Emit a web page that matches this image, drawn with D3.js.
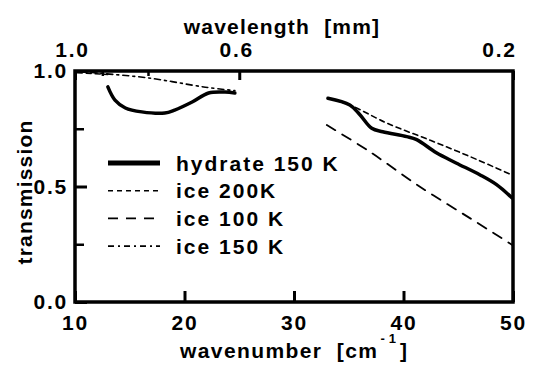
<!DOCTYPE html>
<html>
<head>
<meta charset="utf-8">
<script src="https://cdn.jsdelivr.net/npm/d3@7"></script>
<style>
  html, body { margin: 0; padding: 0; background: #fff; }
  svg text { font-family: "Liberation Sans", Arial, sans-serif; font-weight: bold; fill: #000; }
</style>
</head>
<body>
<svg id="chart" width="535" height="367"></svg>
<script>
// axis ticks
const wavenumberTicks = [10, 20, 30, 40, 50];
const transmissionMajor = [0, 0.5, 1.0];
const transmissionMinor = [0.25, 0.75];
// top axis in mm (labels kept as printed on the original)
const wavelengthMajor = [1.0, 0.4, 0.2];
const wavelengthMajorLabels = ['1.0', '0.6', '0.2'];
const wavelengthMinor = [0.8, 0.6];

// series: [wavenumber cm^-1, transmission]
const hydrateLow = [[13.0, 0.931], [13.65, 0.874], [14.6, 0.840], [16.1, 0.823], [18.2, 0.818],
  [19.1, 0.831], [20.7, 0.866], [22.2, 0.905], [23.7, 0.909], [24.6, 0.905]];
const hydrateHigh = [[33.1, 0.882], [35.1, 0.853], [36.0, 0.812], [37.1, 0.752], [38.1, 0.737],
  [40.3, 0.716], [41.2, 0.703], [43.0, 0.646], [44.8, 0.602], [47.0, 0.550], [48.5, 0.508], [49.9, 0.451]];
const ice200Low = [[10.2, 0.993], [13.0, 0.985]];
const ice200High = [[33.3, 0.880], [35.1, 0.853], [38.5, 0.774], [42.4, 0.701], [46.1, 0.629], [49.9, 0.550]];
const ice100 = [[33.0, 0.766], [36.9, 0.651], [41.5, 0.499], [46.1, 0.362], [49.9, 0.248]];
const ice150 = [[10.0, 1.0], [12.3, 0.99], [16.7, 0.97], [21.9, 0.93], [24.6, 0.915]];

const legendLabels = ['hydrate 150 K', 'ice 200K', 'ice 100 K', 'ice 150 K'];

const styles = {
  hydrate: { width: 3.5, dash: null },
  ice200: { width: 1.6, dash: '5,4' },
  ice100: { width: 1.8, dash: '10,8' },
  ice150: { width: 1.6, dash: '6,4,2,4' }
};

const W = 535, H = 367;
const margin = { top: 71, right: 22, bottom: 65, left: 75 };

const svg = d3.select('#chart');

const x = d3.scaleLinear().domain([10, 50]).range([margin.left, W - margin.right]);
const y = d3.scaleLinear().domain([0, 1]).range([H - margin.bottom, margin.top]);

const line = d3.line()
  .x(d => x(d[0]))
  .y(d => y(d[1]))
  .curve(d3.curveCatmullRom);

const fontSize = 21;

function styleAxis(g, width) {
  g.select('.domain').remove();
  g.selectAll('.tick line').attr('stroke', '#000').attr('stroke-width', width);
  g.selectAll('.tick text')
    .style('font-size', fontSize + 'px')
    .style('letter-spacing', '1.8px');
}

// left axis
svg.append('g')
  .attr('transform', `translate(${margin.left},0)`)
  .call(d3.axisLeft(y).tickValues(transmissionMajor).tickFormat(d3.format('.1f'))
    .tickSizeInner(-12).tickSizeOuter(0).tickPadding(7))
  .call(g => styleAxis(g, 3));
svg.append('g')
  .attr('transform', `translate(${margin.left},0)`)
  .call(d3.axisLeft(y).tickValues(transmissionMinor).tickFormat('')
    .tickSizeInner(-9).tickSizeOuter(0))
  .call(g => styleAxis(g, 2.5));

// bottom axis
svg.append('g')
  .attr('transform', `translate(0,${y(0)})`)
  .call(d3.axisBottom(x).tickValues(wavenumberTicks).tickFormat(d3.format('d'))
    .tickSizeInner(-11).tickSizeOuter(0).tickPadding(13))
  .call(g => styleAxis(g, 3));

// top axis (wavelength = 10 / wavenumber)
const topMajor = svg.append('g')
  .attr('transform', `translate(0,${y(1)})`)
  .call(d3.axisTop(x).tickValues(wavelengthMajor.map(l => 10 / l))
    .tickFormat((d, i) => wavelengthMajorLabels[i])
    .tickSizeInner(-9).tickSizeOuter(0).tickPadding(14))
  .call(g => styleAxis(g, 3));
topMajor.selectAll('.tick text')
  .attr('dx', (d, i) => i === wavelengthMajor.length - 1 ? -14 : -3);
svg.append('g')
  .attr('transform', `translate(0,${y(1)})`)
  .call(d3.axisTop(x).tickValues(wavelengthMinor.map(l => 10 / l)).tickFormat('')
    .tickSizeInner(-5).tickSizeOuter(0))
  .call(g => styleAxis(g, 2.5));

// frame
svg.append('rect')
  .attr('x', x(10)).attr('y', y(1))
  .attr('width', x(50) - x(10)).attr('height', y(0) - y(1))
  .attr('fill', 'none').attr('stroke', '#000').attr('stroke-width', 3.5);

// curves
const curves = [
  { data: hydrateLow, s: styles.hydrate },
  { data: hydrateHigh, s: styles.hydrate },
  { data: ice200Low, s: styles.ice200 },
  { data: ice200High, s: styles.ice200 },
  { data: ice100, s: styles.ice100 },
  { data: ice150, s: styles.ice150 }
];
svg.append('g').selectAll('path')
  .data(curves)
  .join('path')
  .attr('d', d => line(d.data))
  .attr('fill', 'none')
  .attr('stroke', '#000')
  .attr('stroke-linecap', 'round')
  .attr('stroke-width', d => d.s.width)
  .attr('stroke-dasharray', d => d.s.dash);

// legend
const legendStyles = [styles.hydrate, styles.ice200, styles.ice100, styles.ice150];
const legend = svg.append('g').attr('transform', 'translate(108,163)');
const rows = legend.selectAll('g')
  .data(legendLabels)
  .join('g')
  .attr('transform', (d, i) => `translate(0,${i * 27.7})`);
rows.append('line')
  .attr('x1', 0).attr('x2', 52)
  .attr('stroke', '#000')
  .attr('stroke-width', (d, i) => i === 0 ? 5 : legendStyles[i].width)
  .attr('stroke-dasharray', (d, i) => legendStyles[i].dash);
rows.append('text')
  .attr('x', 68)
  .attr('dy', '0.36em')
  .style('font-size', fontSize + 'px')
  .style('letter-spacing', '2px')
  .text(d => d);

// axis titles
svg.append('text')
  .attr('x', 282).attr('y', 34)
  .attr('text-anchor', 'middle')
  .style('font-size', fontSize + 'px')
  .style('letter-spacing', '1.2px')
  .style('white-space', 'pre')
  .text('wavelength  [mm]');

const xTitle = svg.append('text')
  .attr('x', 180).attr('y', 358)
  .style('font-size', fontSize + 'px')
  .style('letter-spacing', '1.4px')
  .style('white-space', 'pre');
xTitle.append('tspan').text('wavenumber  [cm');
xTitle.append('tspan').attr('dy', -15).attr('dx', 2)
  .style('font-size', '13px').style('letter-spacing', '4px').text('-1');
xTitle.append('tspan').attr('dy', 15).attr('dx', 0).text(']');

svg.append('text')
  .attr('transform', 'translate(32,192) rotate(-90)')
  .attr('text-anchor', 'middle')
  .style('font-size', fontSize + 'px')
  .style('letter-spacing', '1.2px')
  .text('transmission');
</script>
</body>
</html>
